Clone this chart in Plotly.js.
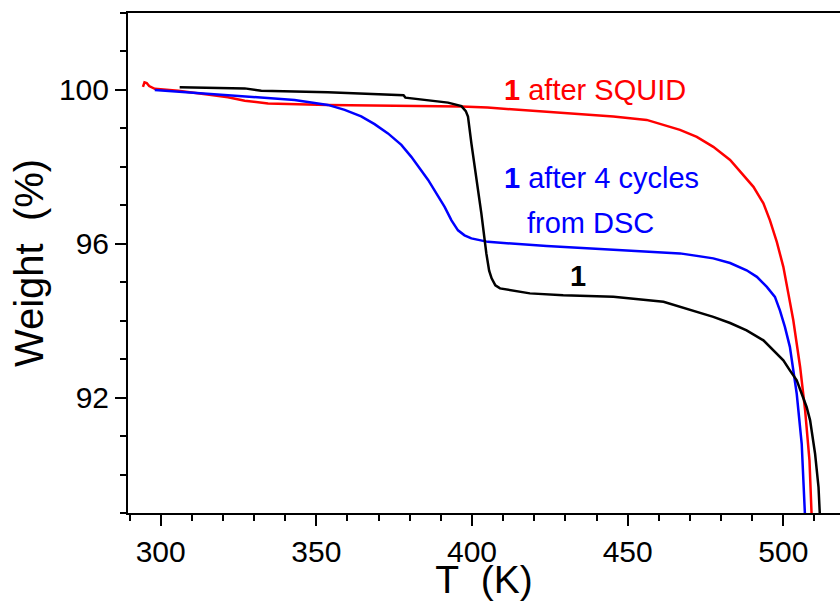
<!DOCTYPE html>
<html>
<head>
<meta charset="utf-8">
<script src="https://cdn.plot.ly/plotly-3.0.1.min.js"></script>
<style>html,body{margin:0;padding:0;background:#fff;}#chart{width:840px;height:601px;}</style>
</head>
<body>
<div id="chart"></div>
<script>
// 1 after SQUID (red)
const squidT = [294.3, 294.8, 295.5, 296.3, 298.1, 305.6, 315, 321.6, 327, 334.5, 353.7, 375, 396.6, 405, 424, 445.4, 456.1, 461.5, 466.8, 472.2, 477.5, 482.9, 486.1, 490.4, 493.6, 495.7, 497.9, 500, 501.6, 503.2, 504.3, 505.4, 507, 508.4, 509.3];
const squidW = [100.08, 100.2, 100.18, 100.1, 100.03, 99.98, 99.88, 99.81, 99.72, 99.65, 99.61, 99.59, 99.57, 99.54, 99.44, 99.31, 99.22, 99.09, 98.96, 98.78, 98.52, 98.18, 97.87, 97.48, 97.05, 96.61, 96.05, 95.40, 94.71, 94.01, 93.40, 92.79, 91.67, 90.36, 88.5];
// 1 after 4 cycles from DSC (blue)
const dscT = [298.1, 310, 321.6, 343, 353.7, 359.1, 364.4, 368.7, 373, 377.3, 380.5, 385.9, 391.2, 393.4, 395.5, 397.6, 399.8, 405.1, 424, 445.4, 466.8, 477.5, 482.9, 488.2, 491.5, 494.7, 497.3, 498.9, 500.5, 502.1, 503.2, 504.3, 505.9, 507.2];
const dscW = [100.0, 99.93, 99.87, 99.74, 99.61, 99.48, 99.31, 99.11, 98.87, 98.57, 98.26, 97.66, 96.96, 96.61, 96.35, 96.22, 96.14, 96.05, 95.94, 95.85, 95.75, 95.62, 95.50, 95.31, 95.14, 94.88, 94.62, 94.27, 93.84, 93.32, 92.71, 92.10, 90.80, 88.5];
// 1 (black)
const pristineT = [306.1, 327, 332.3, 353.7, 378, 378.6, 392.3, 396.6, 398, 398.7, 399.8, 401.4, 403, 404.6, 405.5, 406.3, 407.5, 409, 418.6, 429.3, 445.4, 461.5, 469, 477.5, 482.9, 488.2, 493.6, 496.8, 500, 502.1, 504.3, 505.9, 507.5, 508.6, 510.2, 511.3, 512];
const pristineW = [100.07, 100.04, 99.98, 99.94, 99.86, 99.80, 99.67, 99.58, 99.45, 99.31, 98.61, 97.74, 96.79, 95.75, 95.3, 95.1, 94.92, 94.84, 94.71, 94.66, 94.62, 94.49, 94.31, 94.10, 93.94, 93.75, 93.49, 93.23, 92.97, 92.71, 92.45, 92.10, 91.75, 91.41, 90.54, 89.67, 88.5];

const FONT = '"Liberation Sans", Arial, sans-serif';

const traces = [
  {x: squidT, y: squidW, mode: 'lines', line: {color: '#ff0000', width: 2.5}, name: '1 after SQUID'},
  {x: dscT, y: dscW, mode: 'lines', line: {color: '#0000ff', width: 2.5}, name: '1 after 4 cycles from DSC'},
  {x: pristineT, y: pristineW, mode: 'lines', line: {color: '#000000', width: 2.5}, name: '1'}
];

const layout = {
  width: 840, height: 601,
  margin: {l: 128, r: 0, t: 13, b: 88},
  paper_bgcolor: '#fff', plot_bgcolor: '#fff',
  showlegend: false,
  font: {family: FONT, color: '#000'},
  xaxis: {
    range: [289.5, 518.2],
    showgrid: false, zeroline: false,
    showline: true, linecolor: '#000', linewidth: 2, mirror: true,
    ticks: 'outside', ticklen: 11, tickwidth: 2, tickcolor: '#000',
    tick0: 300, dtick: 50,
    minor: {ticks: 'outside', ticklen: 6, tickwidth: 2, tickcolor: '#000', dtick: 10, showgrid: false},
    tickfont: {size: 30, family: FONT, color: '#000'},
    title: {text: 'T\u00a0\u00a0(K)', font: {size: 39, family: FONT, color: '#000'}, standoff: 10}
  },
  yaxis: {
    range: [89, 102],
    showgrid: false, zeroline: false,
    showline: true, linecolor: '#000', linewidth: 2,
    ticks: 'outside', ticklen: 11, tickwidth: 2, tickcolor: '#000',
    tick0: 0, dtick: 4,
    minor: {ticks: 'outside', ticklen: 6, tickwidth: 2, tickcolor: '#000', dtick: 1, showgrid: false},
    tickfont: {size: 30, family: FONT, color: '#000'},
    title: {text: 'Weight\u00a0\u00a0(%)', font: {size: 40, family: FONT, color: '#000'}, standoff: 3}
  },
  annotations: [
    {x: 409.6, y: 100.0, xref: 'x', yref: 'y', xanchor: 'left', yanchor: 'middle', showarrow: false,
     text: '<b>1</b> after SQUID', font: {size: 29, family: FONT, color: '#ff0000'}},
    {x: 409.6, y: 97.71, xref: 'x', yref: 'y', xanchor: 'left', yanchor: 'middle', showarrow: false,
     text: '<b>1</b> after 4 cycles', font: {size: 29, family: FONT, color: '#0000ff'}},
    {x: 417, y: 96.54, xref: 'x', yref: 'y', xanchor: 'left', yanchor: 'middle', showarrow: false,
     text: 'from DSC', font: {size: 29, family: FONT, color: '#0000ff'}},
    {x: 434.1, y: 95.16, xref: 'x', yref: 'y', xanchor: 'center', yanchor: 'middle', showarrow: false,
     text: '<b>1</b>', font: {size: 29, family: FONT, color: '#000'}}
  ]
};

Plotly.newPlot('chart', traces, layout, {staticPlot: true, displayModeBar: false});
</script>
</body>
</html>
